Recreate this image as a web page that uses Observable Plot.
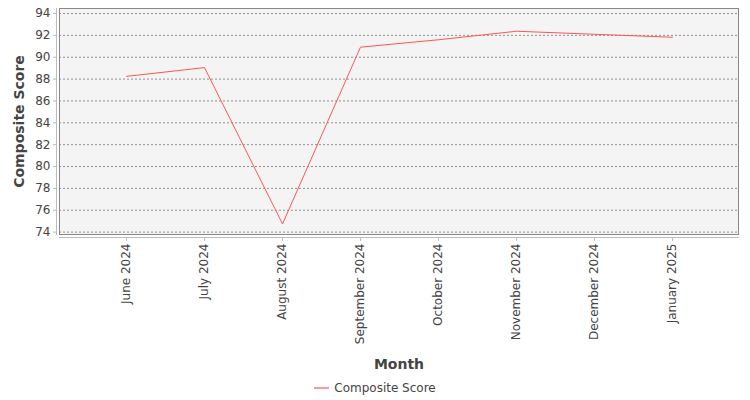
<!DOCTYPE html>
<html>
<head>
<meta charset="utf-8">
<script src="https://cdn.jsdelivr.net/npm/d3@7"></script>
<script src="https://cdn.jsdelivr.net/npm/@observablehq/plot@0.6"></script>
<style>
  body { margin: 0; background: #fff; font-family: "DejaVu Sans", sans-serif; }
  #legend { width: 750px; height: 32px; display: flex; justify-content: center; align-items: center; font-size: 12px; color: #444; }
  #legend svg { margin-right: 4px; }
</style>
</head>
<body>
<div id="chart"></div>
<div id="legend"></div>
<script>
const months = ["June 2024", "July 2024", "August 2024", "September 2024", "October 2024", "November 2024", "December 2024", "January 2025"];
const scores = [88.25, 89.05, 74.75, 90.92, 91.6, 92.38, 92.1, 91.83];
const yTicks = [74, 76, 78, 80, 82, 84, 86, 88, 90, 92, 94];
const seriesName = "Composite Score";
const xTitle = "Month";
const yTitle = "Composite Score";
const lineColor = "#ff5555";

const data = months.map((m, i) => ({month: m, score: scores[i]}));

const chart = Plot.plot({
  width: 750,
  height: 372,
  marginLeft: 59,
  marginRight: 12,
  marginTop: 8,
  marginBottom: 138,
  style: {fontFamily: "DejaVu Sans, sans-serif", fontSize: "12px", color: "#444", background: "#fff"},
  x: {type: "point", domain: months, padding: 0.81},
  y: {domain: [73.78, 94.46]},
  marks: [
    Plot.frame({fill: "#f4f4f4", stroke: "none"}),
    Plot.gridY(yTicks, {stroke: "#777", strokeOpacity: 1, strokeDasharray: "2,2", strokeWidth: 0.8}),
    Plot.frame({stroke: "#888", strokeWidth: 1}),
    Plot.frame({anchor: "bottom", stroke: "#bbb", dy: 3}),
    Plot.frame({anchor: "left", stroke: "#bbb", dx: -3}),
    Plot.axisY(yTicks, {dx: -3, tickSize: 3, tickPadding: 3, stroke: "#bbb", fill: "#444", label: null, fontSize: 12}),
    Plot.axisX({dy: 3, tickSize: 4, tickPadding: 2, tickRotate: -90, stroke: "#bbb", fill: "#444", label: null, fontSize: 12}),
    Plot.line(data, {x: "month", y: "score", stroke: lineColor, strokeWidth: 1}),
    Plot.text([yTitle], {frameAnchor: "left", textAnchor: "middle", lineAnchor: "middle", dx: -40, rotate: -90, fontWeight: "bold", fontSize: 14, fill: "#444"}),
    Plot.text([xTitle], {frameAnchor: "bottom", textAnchor: "middle", lineAnchor: "middle", dy: 130, fontWeight: "bold", fontSize: 14, fill: "#444"})
  ]
});
document.getElementById("chart").appendChild(chart);

document.getElementById("legend").innerHTML =
  `<svg width="16" height="10"><line x1="0" x2="15" y1="5" y2="5" stroke="${lineColor}" stroke-width="1.2"/></svg><span>${seriesName}</span>`;
</script>
</body>
</html>
